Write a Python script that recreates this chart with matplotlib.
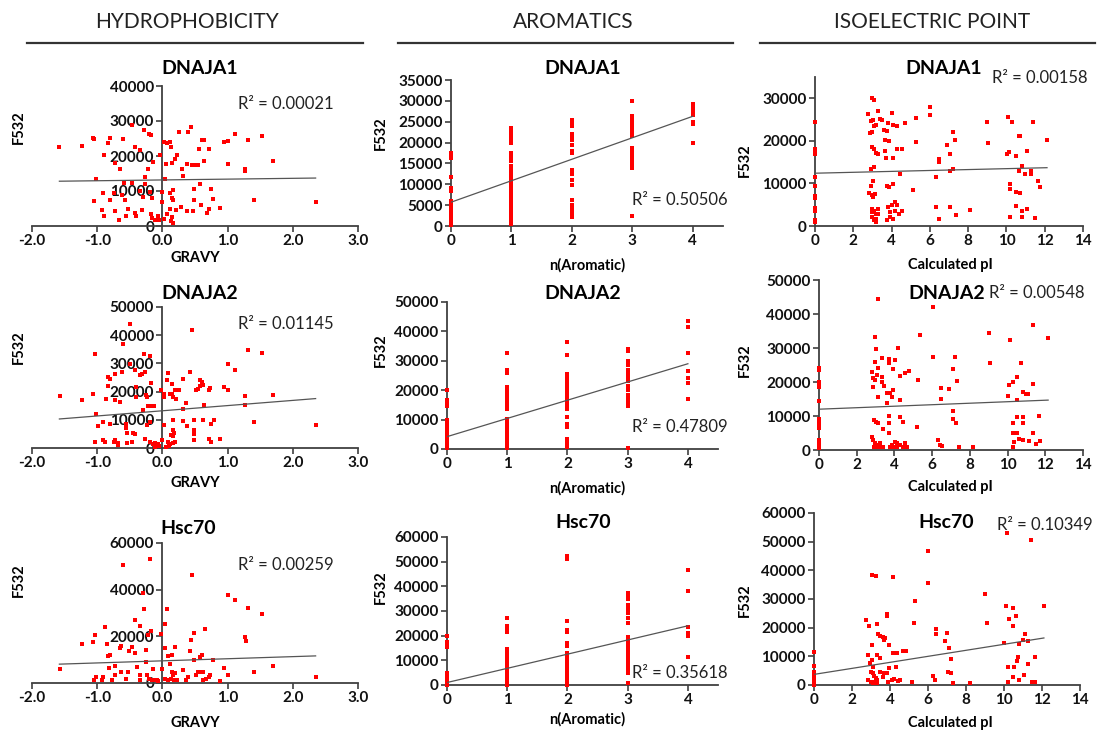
import matplotlib
matplotlib.use("Agg")
import matplotlib.pyplot as plt
from matplotlib.lines import Line2D

W, H = 1097, 732
plt.rcParams['font.family'] = ['Lato', 'DejaVu Sans']

# ---- Hydrophobicity (GRAVY) ----
h1_x = [-1.58, -1.24, -1.07, -1.05, -0.81, -0.83, -0.61, -0.47, -0.28, -0.2, -0.18, -0.42, -0.34, -0.89,
        -0.73, -0.65, -0.15, -0.22, -0.04, -1.02, -0.59, -0.47, -0.26, -0.27, -0.91, -0.75, -0.62, -0.34,
        -0.19, 0.0, -1.05, -0.81, -0.57, -0.3, -0.16, -0.01, -0.93, -0.73, -0.53, -0.42, -0.32, -0.89,
        -0.56, -0.41, -0.18, -0.66, -0.16, -0.11, -0.06, -0.05, 0.02, 0.07, 0.14, 0.13, 0.17, 0.02, 0.07,
        0.12, 0.13, 0.06, 0.14, 0.19, 0.23, 0.3, 0.37, 0.45, 0.5, 0.54, 0.31, 0.04, 0.25, 0.44, 0.4, 0.56,
        0.6, 0.64, 0.72, 0.64, 0.57, 0.48, 0.74, 0.11, 0.17, 0.14, 0.16, 0.49, 0.78, 0.59, 0.72, 0.69,
        0.88, 0.12, 0.21, 0.29, 0.37, 0.47, 0.95, 1.0, 1.12, 1.32, 1.53, 1.0, 1.26, 1.27, 1.7, 1.41, 2.35]
h1_y = [22600, 23000, 25200, 24900, 25200, 23700, 25000, 29000, 27300, 26300, 26100, 22600, 21600, 20200,
        18000, 16400, 18300, 16400, 20200, 13300, 12300, 12300, 14000, 12100, 9400, 9400, 9000, 10000,
        9700, 9700, 7100, 7300, 7500, 8300, 8100, 6900, 4500, 4300, 5000, 3700, 4500, 3000,
        2800, 3000, 3500, 1600, 2400, 1800, 3000, 1600, 2100, 3500, 2600, 1400, 900, 24000, 23700,
        24000, 22600, 17800, 18000, 19200, 20200, 16400, 17800, 17300, 17500, 17500, 14300, 13500, 26900, 28300, 26900, 22100,
        24500, 24700, 21900, 18600, 12100, 10700, 10700, 9500, 10200, 8100, 7300, 7500, 7800, 5900, 5000, 3700,
        5200, 5000, 4700, 5400, 4300, 4300, 24000, 24300, 26400, 24700, 25600, 17800, 16400, 15700, 18600, 7300, 6900]

h2_x = [-1.57, -1.24, -1.07, -1.04, -1.02, -0.99, -1.04, -0.91, -0.88, -0.91, -0.87, -0.83, -0.81, -0.83,
        -0.73, -0.72, -0.75, -0.73, -0.81, -0.65, -0.62, -0.6, -0.68, -0.68, -0.56, -0.56, -0.55, -0.54,
        -0.49, -0.49, -0.42, -0.41, -0.41, -0.45, -0.42, -0.46, -0.34, -0.32, -0.28, -0.27, -0.25, -0.23,
        -0.3, -0.24, -0.27, -0.19, -0.17, -0.22, -0.16, -0.13, -0.19, -0.19, -0.15, -0.11, -0.09, -0.06,
        -0.02, 0.02, 0.03, 0.03, -0.01, 0.07, 0.09, 0.11, 0.14, 0.14, 0.19, 0.21, 0.17, 0.16, 0.17, 0.18,
        0.13, 0.16, 0.09, 0.12, 0.16, 0.19, 0.26, 0.31, 0.36, 0.31, 0.31, 0.37, 0.42, 0.45, 0.48, 0.49,
        0.49, 0.49, 0.52, 0.55, 0.58, 0.61, 0.63, 0.57, 0.62, 0.64, 0.71, 0.73, 0.72, 0.74, 0.75, 0.79,
        0.89, 0.95, 1.0, 1.0, 1.12, 1.32, 1.53, 1.26, 1.27, 1.7, 1.41, 2.35, -0.12, -0.05, 0.05, 0.1]
h2_y = [18400, 16900, 19300, 33500, 11900, 7700, 2100, 3000, 2100, 9200, 17500, 25200, 24600, 21900,
        26100, 16900, 2100, 2700, 8600, 16300, 27000, 36800, 1800, 950, 8600, 7200, 5300, 1800,
        44100, 29700, 27800, 21600, 18100, 5300, 4800, 2100, 25800, 26100, 33200, 27000, 18700, 18100,
        13600, 8000, 3300, 32500, 23000, 14800, 14800, 14800, 9200, 2100, 1500, 1800, 1500, 1300,
        20700, 19000, 18100, 8000, 2700, 24000, 26600, 19300, 19000, 22600, 20400, 17500, 18100, 10000, 6300, 5300,
        4500, 4100, 2100, 1500, 1800, 2100, 20700, 24600, 16000, 13900, 9500, 7700, 27000, 42000, 2700, 10000,
        6300, 5100, 20400, 21000, 24000, 23400, 22200, 21900, 9800, 15400, 20400, 21400, 3300, 2100, 8600, 9800,
        3300, 21600, 29900, 20400, 27500, 34600, 33800, 18300, 15100, 18900, 9200, 8000, 500, 700, 500, 800]

h3_x = [-1.57, -1.24, -1.07, -1.04, -1.02, -1.05, -0.93, -0.91, -0.88, -0.85, -0.83, -0.81, -0.82, -0.78,
        -0.73, -0.72, -0.65, -0.64, -0.64, -0.6, -0.56, -0.53, -0.51, -0.47, -0.42, -0.35, -0.42, -0.39,
        -0.35, -0.34, -0.29, -0.28, -0.25, -0.25, -0.22, -0.18, -0.19, -0.23, -0.2, -0.16, -0.13, -0.09,
        -0.06, -0.14, -0.02, 0.04, 0.07, 0.04, 0.09, 0.14, 0.12, 0.14, 0.17, 0.19, 0.04, 0.09, 0.13, 0.18,
        0.22, -0.01, 0.19, 0.31, 0.36, 0.4, 0.42, 0.44, 0.45, 0.49, 0.49, 0.52, 0.55, 0.58, 0.61, 0.63,
        0.57, 0.61, 0.63, 0.67, 0.66, 0.71, 0.73, 0.78, 0.89, 0.95, 1.0, 1.01, 1.12, 1.32, 1.53, 1.27,
        1.28, 1.41, 1.7, 2.35]
h3_y = [5900, 16900, 17600, 20500, 2600, 1400, 1100, 2600, 24100, 16900, 11500, 11900, 6600, 1100,
        3300, 7200, 15100, 15800, 4700, 50600, 1600, 4700, 13600, 15500, 27000, 24400, 12900, 6900,
        3300, 1400, 38500, 31600, 14100, 9000, 20500, 22200, 53100, 3300, 1900, 1400, 1100, 1100,
        900, 6200, 21200, 25500, 31600, 14800, 11500, 11900, 8300, 4700, 3300, 4300, 1900, 1100, 1900, 1100,
        1100, 6200, 15500, 5500, 1100, 2600, 13800, 18400, 46300, 21500, 9800, 3300, 4700, 4700, 4700, 4700,
        11200, 11900, 1100, 1900, 23000, 2600, 3300, 10000, 900, 6600, 37700, 3300, 35600, 32000, 29600, 19800,
        18100, 4700, 7200, 2600]

# ---- Aromatics: F532 values stacked at n = 0..4 ----
a1_cols = [
    [200, 600, 1000, 1500, 2000, 2500, 3000, 3500, 4000, 4500, 5000, 5500, 6000, 8500, 9200, 11700, 16300, 17000, 17500],
    [500, 1000, 1500, 2000, 2500, 3000, 3500, 4000, 4500, 5000, 5500, 6000, 6500, 7000, 7500, 8000, 8500, 9000, 9500,
     10000, 10500, 11000, 12000, 12500, 13500, 14000, 14500, 15500, 16500, 17000, 17500, 20000, 20500, 21000, 21500,
     22000, 22500, 23000, 23500],
    [2200, 3000, 4000, 5000, 6200, 9800, 11000, 12500, 13500, 17500, 18000, 19500, 20500, 21500, 22000, 24000, 24500, 25500],
    [2500, 13800, 14500, 15200, 16000, 17000, 18000, 18800, 21500, 22000, 22500, 23500, 24000, 25000, 25500, 26300, 30000],
    [19800, 24500, 25000, 26500, 27500, 28500, 29200],
]
a2_cols = [
    [200, 800, 1500, 2200, 3000, 3800, 4500, 5200, 6000, 6800, 7500, 8200, 9000, 9800, 14500, 15500, 16500, 20000],
    [300, 1000, 1700, 2400, 3100, 3800, 4500, 5200, 5900, 6600, 7300, 8000, 8700, 9400, 10100, 13500, 14500, 15500,
     16500, 17500, 18500, 19500, 20500, 21000, 26000, 27000, 32500],
    [700, 1500, 2500, 3500, 7500, 8500, 11000, 13500, 15000, 16000, 17000, 18000, 18500, 19500, 20500, 21500, 22500,
     23500, 24500, 25500, 32000, 36500],
    [500, 14500, 15500, 17000, 18500, 20000, 21500, 23000, 24000, 25500, 27000, 28500, 30000, 33500, 34000],
    [17000, 22500, 24000, 26500, 32500, 41500, 43500],
]
a3_cols = [
    [0, 500, 1000, 1500, 2000, 2500, 3000, 3500, 4000, 4500, 5000, 15500, 16500, 17500, 20000],
    [0, 700, 1400, 2100, 2800, 3500, 4200, 4900, 5600, 6300, 7000, 7700, 8400, 9100, 9800, 10500, 11200, 11900,
     12600, 13300, 14000, 14700, 21500, 23000, 24000, 27000],
    [0, 800, 1600, 2400, 3200, 4000, 4800, 5600, 6400, 7200, 8000, 8800, 9600, 10400, 11200, 12000, 12800, 16000,
     17000, 21500, 22500, 26000, 51000, 52500],
    [1000, 5000, 6500, 8000, 9500, 11000, 12500, 14000, 15500, 17000, 18500, 19500, 25000, 27000, 29000, 31000,
     32500, 35000, 36500, 37500],
    [11500, 20000, 21000, 23500, 38000, 46500],
]

# ---- Isoelectric point ----
i1_x = [0, 0, 0, 0, 0, 0, 0, 0, 0, 0, 0, 0,
        2.75, 2.96, 3.1, 2.9, 3.04, 2.87, 2.97, 3.2, 3.3, 3.4, 3.1, 3.48, 3.62, 3.74, 3.83, 4.0, 4.08, 4.26,
        4.7, 5.3, 6.0, 6.0, 9.0, 9.05, 10.1, 10.3, 11.4, 2.97, 3.1, 3.2, 3.3, 3.67, 3.86, 3.67, 3.69, 4.08,
        4.26, 4.55, 5.26, 6.47, 6.47, 6.9, 7.33, 7.04, 7.22, 10.03, 10.14, 10.5, 10.66, 10.73, 11.1, 10.66,
        10.83, 10.96, 11.3, 11.3, 11.67, 11.74, 12.14, 2.9, 3.1, 3.04, 2.92, 2.83, 2.96, 3.04, 3.13, 3.74,
        3.88, 4.08, 4.43, 5.13, 6.31, 7.04, 7.22, 10.2, 10.2, 10.5, 10.7, 2.96, 3.0, 3.1, 3.2, 2.96, 3.08,
        3.2, 3.2, 3.3, 3.3, 3.74, 3.91, 4.08, 3.83, 4.0, 4.17, 4.26, 3.94, 4.17, 4.55, 4.4, 6.31, 6.47,
        7.04, 7.39, 8.12, 10.2, 10.5, 10.83, 11.1, 10.8, 11.5]
i1_y = [1000, 1500, 3500, 4200, 6500, 7000, 9500, 11500, 17000, 17500, 18000, 24500,
        26300, 30000, 29500, 24600, 25000, 21900, 22100, 23800, 26900, 25200, 23400, 25000, 22600, 22200,
        24200, 26500, 23800, 23400, 24200, 25300, 28000, 26100, 24400, 19500, 25700, 24400, 24400, 18600,
        18200, 17200, 16800, 20300, 19900, 17700, 15900, 16000, 18200, 18000, 19800, 15700, 15000, 19000,
        20100, 16800, 22100, 16800, 17400, 16400, 21100, 21100, 17700, 12900, 14100, 12200, 12900, 12300,
        10600, 9100, 20300, 13300, 13900, 10600, 9400, 7700, 7300, 6700, 7500, 9500, 9200, 9800, 12300,
        8400, 11600, 12900, 13300, 9800, 8700, 7900, 7800, 4000, 3300, 3600, 2900, 2100, 1300, 900, 1700,
        4000, 2900, 1300, 2100, 1700, 4400, 5000, 5600, 5000, 3300, 3600, 3500, 2900, 4400, 1600, 4400,
        2500, 3800, 2200, 4600, 3500, 4000, 2000, 1800]

i2_x = [0, 0, 0, 0, 0, 0, 0, 0, 0, 0, 0, 0, 0, 0,
        3.14, 6.06, 5.35, 9.03, 11.36, 10.12, 12.16, 2.97, 3.02, 4.2, 2.97, 3.14, 3.32, 3.73, 4.03, 3.73, 3.9,
        2.8, 2.88, 2.97, 3.06, 3.32, 3.32, 3.45, 2.88, 3.14, 3.59, 3.77, 3.94, 3.86, 3.59, 4.29, 4.56, 4.79,
        4.29, 5.27, 6.03, 6.45, 6.45, 6.91, 7.08, 7.2, 7.33, 9.06, 10.04, 10.09, 10.3, 10.48, 10.69, 10.48,
        10.83, 11.0, 11.1, 11.33, 2.93, 3.02, 3.11, 3.37, 3.73, 3.73, 3.73, 4.29, 4.47, 5.18, 7.08, 7.08,
        7.26, 10.27, 10.8, 10.48, 10.83, 10.27, 10.48, 10.34, 10.6, 11.36, 11.68, 10.83, 11.15, 11.5, 11.7,
        10.27, 2.8, 2.88, 2.97, 3.06, 3.14, 3.23, 3.32, 2.9, 3.4, 3.77, 3.86, 3.94, 4.03, 4.12, 4.29, 4.47,
        4.56, 4.15, 4.65, 6.33, 6.4, 6.5, 7.4, 8.15]
i2_y = [500, 1500, 2500, 3000, 6500, 7500, 8500, 9000, 14500, 18500, 19500, 20000, 23500, 24000,
        44300, 42000, 33800, 34500, 36800, 32500, 32800, 33300, 29600, 29900, 26000, 24000, 27000, 26700,
        26500, 25500, 23700, 23000, 21100, 20600, 22000, 21600, 20100, 18800, 18600, 15700, 16700, 16700,
        17600, 15700, 13700, 21800, 22700, 23300, 14700, 20600, 27300, 18100, 14900, 17800, 23700, 27300,
        20400, 25500, 15900, 19100, 20100, 21600, 25700, 14700, 17200, 16500, 16500, 19400, 8800, 8300,
        8000, 6100, 10000, 7800, 5100, 9600, 8300, 6900, 11600, 9000, 8000, 8000, 7800, 9600, 9600, 5100,
        5100, 2500, 3200, 4900, 10000, 2900, 2700, 1800, 2700, 1000, 3900, 2900, 2000, 1500, 1000, 2000,
        1000, 800, 800, 1000, 1500, 800, 2500, 2000, 1500, 1000, 2200, 800, 800, 2900, 1500, 1200, 800, 1000]

i3_x = [0, 0, 0, 0, 0, 0, 0, 0,
        2.74, 2.91, 3.04, 3.26, 3.04, 3.3, 3.3, 3.39, 3.47, 3.65, 3.68, 3.74, 3.82, 3.82, 3.96, 4.14, 4.18,
        4.35, 4.67, 4.84, 5.32, 5.26, 6.02, 6.02, 6.42, 6.42, 6.89, 7.02, 7.12, 7.19, 9.0, 9.09, 10.14,
        10.1, 10.28, 10.49, 10.63, 10.49, 11.1, 11.0, 11.28, 10.81, 10.02, 11.4, 12.1, 11.63, 10.75, 10.67,
        11.28, 10.23, 10.53, 10.46, 11.05, 10.81, 10.19, 11.46, 11.63, 2.86, 2.95, 3.04, 3.12, 2.98, 3.09,
        3.17, 3.26, 3.3, 2.86, 2.98, 3.12, 3.21, 3.33, 3.47, 3.65, 3.82, 3.91, 4.09, 4.21, 4.44, 4.53, 4.3,
        3.47, 3.68, 3.96, 5.14, 6.28, 6.37, 7.05, 7.19, 7.33, 8.2]
i3_y = [0, 500, 1000, 2000, 3500, 4500, 6500, 11500,
        22700, 20600, 38500, 38100, 14000, 21300, 10500, 17800, 17100, 16900, 15700, 16300, 24100, 24800,
        14000, 37600, 11300, 11300, 11900, 11700, 29400, 21600, 46600, 35500, 19500, 17800, 15500, 18300,
        12800, 9000, 31800, 21600, 53000, 27600, 23000, 26800, 24100, 20600, 17800, 15700, 15200, 14300,
        14800, 50700, 27400, 9900, 9900, 8500, 7300, 6400, 6400, 2900, 3500, 1700, 1200, 1200, 900, 10500,
        7600, 8700, 6400, 4700, 4100, 3300, 2300, 1700, 1700, 1200, 800, 1200, 800, 4700, 2900, 4100, 1200,
        1700, 2000, 1400, 1700, 6400, 9300, 4300, 5800, 1200, 3300, 1700, 4700, 4100, 600, 600]

# trend lines: (intercept, slope, x_start, x_end)
h_trend = [(13160, 230, -1.58, 2.35), (13200, 1840, -1.58, 2.35), (9500, 900, -1.58, 2.35)]
a_trend = [(5700, 5150, 0, 4), (4200, 6200, 0, 4), (1000, 5750, 0, 4)]
i_trend = [(12400, 107, 0, 12.12), (12000, 220, 0, 12.15), (3700, 1050, 0, 12.1)]
r2_h = ["0.00021", "0.01145", "0.00259"]
r2_a = ["0.50506", "0.47809", "0.35618"]
r2_i = ["0.00158", "0.00548", "0.10349"]
names = ["DNAJA1", "DNAJA2", "Hsc70"]

AX_COL = "#404040"
TICK_FONT = dict(fontsize=11, fontweight="bold", color="#111111")
fig = plt.figure(figsize=(W / 100, H / 100), dpi=100)


def ptxt(x, y, s, **kw):
    fig.text(x / W, 1 - y / H, s, **kw)


def make_ax(left, right, top, bottom):
    ax = fig.add_axes([left / W, 1 - bottom / H, (right - left) / W, (bottom - top) / H])
    ax.patch.set_alpha(0)
    for side in ("top", "right"):
        ax.spines[side].set_visible(False)
    for side in ("left", "bottom"):
        ax.spines[side].set_color(AX_COL)
        ax.spines[side].set_linewidth(1.3)
    ax.tick_params(direction="out", length=4, width=1.2, color=AX_COL, pad=2)
    return ax


def set_ticks(ax, xt, xl, yt):
    ax.set_xticks(xt, [str(v) for v in xl], **TICK_FONT)
    ax.set_yticks(yt, [str(v) for v in yt], **TICK_FONT)


def draw(ax, xs, ys, trend):
    ax.scatter(xs, ys, marker="s", s=10, color="#ff0000", linewidths=0, zorder=3, clip_on=False)
    b, m, x0, x1 = trend
    ax.plot([x0, x1], [b + m * x0, b + m * x1], color="#555555", lw=0.9, zorder=4)


# section headers
for cx, x0, x1, label in [(187, 27, 363, "HYDROPHOBICITY"), (573, 398, 733, "AROMATICS"),
                          (932, 760, 1095, "ISOELECTRIC POINT")]:
    ptxt(cx, 22, label, fontsize=15, ha="center", va="center", color="#222222")
    fig.add_artist(Line2D([x0 / W, x1 / W], [1 - 43 / H, 1 - 43 / H], color="#333333", lw=1.6))

# hydrophobicity column
h_data = [(h1_x, h1_y), (h2_x, h2_y), (h3_x, h3_y)]
h_boxes = [(32, 358, 86, 226, 40000, 10000), (32, 358, 307, 448, 50000, 10000), (32, 358, 543, 683, 60000, 20000)]
h_title_y = [69, 293, 528]
h_title_x = [200, 200, 188]
h_r2_y = [104, 324, 565]
h_ylab_y = [127, 347, 580]
h_xlab_y = [258, 483, 723]
for k in range(3):
    l, r, t, b, ymax, step = h_boxes[k]
    ax = make_ax(l, r, t, b)
    draw(ax, h_data[k][0], h_data[k][1], h_trend[k])
    ax.set_xlim(-2, 3)
    ax.set_ylim(0, ymax)
    ax.spines["left"].set_position(("data", 0))
    set_ticks(ax, [-2, -1, 0, 1, 2, 3], ["-2.0", "-1.0", "0.0", "1.0", "2.0", "3.0"], list(range(0, ymax + 1, step)))
    ptxt(h_title_x[k], h_title_y[k], names[k], fontsize=14, fontweight="bold", ha="center", va="center")
    ptxt(238, h_r2_y[k], "R² = " + r2_h[k], fontsize=12, ha="left", va="center", color="#222222")
    ptxt(19, h_ylab_y[k], "F532", fontsize=10.5, fontweight="bold", rotation=90, ha="center", va="center")
    ptxt(195, h_xlab_y[k], "GRAVY", fontsize=10.5, fontweight="bold", ha="center", va="center")

# aromatics column
a_data = [a1_cols, a2_cols, a3_cols]
a_boxes = [(451, 723, 80, 226, 35000, 5000), (447, 718, 302, 449, 50000, 10000), (447, 718, 537, 685, 60000, 10000)]
a_title_y = [69, 293, 523]
a_r2_y = [200, 427, 673]
a_ylab_y = [133, 350, 587]
a_xlab_y = [265, 488, 719]
for k in range(3):
    l, r, t, b, ymax, step = a_boxes[k]
    ax = make_ax(l, r, t, b)
    xs = [n for n, col in enumerate(a_data[k]) for _ in col]
    ys = [v for col in a_data[k] for v in col]
    draw(ax, xs, ys, a_trend[k])
    ax.set_xlim(0, 4.5)
    ax.set_ylim(0, ymax)
    set_ticks(ax, [0, 1, 2, 3, 4], [0, 1, 2, 3, 4], list(range(0, ymax + 1, step)))
    ptxt(583, a_title_y[k], names[k], fontsize=14, fontweight="bold", ha="center", va="center")
    ptxt(632, a_r2_y[k], "R² = " + r2_a[k], fontsize=12, ha="left", va="center", color="#222222")
    ptxt(381, a_ylab_y[k], "F532", fontsize=10.5, fontweight="bold", rotation=90, ha="center", va="center")
    ptxt(587, a_xlab_y[k], "n(Aromatic)", fontsize=10.5, fontweight="bold", ha="center", va="center")

# isoelectric point column
i_data = [(i1_x, i1_y), (i2_x, i2_y), (i3_x, i3_y)]
i_boxes = [(815, 1083, 77, 226, 35000, 30000), (819, 1083, 280, 450, 50000, 50000), (814, 1080, 513, 685, 60000, 60000)]
i_title = [(944, 69), (947, 293), (946, 523)]
i_r2 = [(992, 78), (989, 293), (997, 525)]
i_ylab_y = [160, 360, 600]
i_xlab_y = [265, 487, 723]
for k in range(3):
    l, r, t, b, ymax, ytop = i_boxes[k]
    ax = make_ax(l, r, t, b)
    draw(ax, i_data[k][0], i_data[k][1], i_trend[k])
    ax.set_xlim(0, 14)
    ax.set_ylim(0, ymax)
    xt = list(range(0, 15, 2))
    set_ticks(ax, xt, xt, list(range(0, ytop + 1, 10000)))
    ptxt(i_title[k][0], i_title[k][1], names[k], fontsize=14, fontweight="bold", ha="center", va="center")
    ptxt(i_r2[k][0], i_r2[k][1], "R² = " + r2_i[k], fontsize=12, ha="left", va="center", color="#222222")
    ptxt(745, i_ylab_y[k], "F532", fontsize=10.5, fontweight="bold", rotation=90, ha="center", va="center")
    ptxt(950, i_xlab_y[k], "Calculated pI", fontsize=10.5, fontweight="bold", ha="center", va="center")

fig.savefig("out.png", dpi=100)
